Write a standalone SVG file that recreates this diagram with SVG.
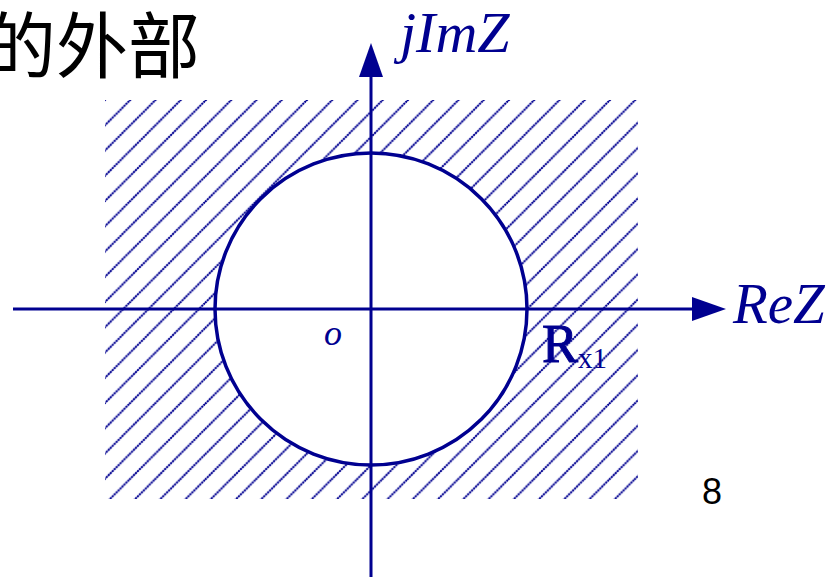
<svg xmlns="http://www.w3.org/2000/svg" width="833" height="577" viewBox="0 0 833 577">
<style>
.ax{stroke:#000090;stroke-width:3;fill:none}
.head{fill:#000090;stroke:none}
.lbl{font-family:"Liberation Serif","Times New Roman",serif;fill:#000090}
.it{font-style:italic}
</style>
<defs>
<pattern id="hatch" patternUnits="userSpaceOnUse" x="3" y="0" width="25.25" height="25.25">
<path d="M-2,2 L2,-2 M-2,27.25 L27.25,-2 M23.25,27.25 L27.25,23.25" stroke="#000090" stroke-width="2" stroke-dasharray="2.2 0.6" fill="none"/>
</pattern>
</defs>
<rect width="833" height="577" fill="#ffffff"/>
<g id="title">
<text x="-16" y="72" font-family="'Noto Sans CJK SC',sans-serif" font-size="72" fill="#000000">的外部</text>
</g>
<g id="region">
<rect x="105" y="100" width="533" height="399" fill="url(#hatch)"/>
</g>
<g id="circle">
<circle cx="371" cy="309" r="156" fill="#ffffff" stroke="#000090" stroke-width="3.5"/>
</g>
<g id="connectors">
<line class="ax" x1="13" y1="309" x2="694" y2="309"/>
<polygon class="head" points="692,297 726,309 692,321"/>
<line class="ax" x1="371" y1="577" x2="371" y2="75"/>
<polygon class="head" points="359,77 371,43 383,77"/>
</g>
<g id="labels">
<text class="lbl it" x="400" y="52" font-size="58">jImZ</text>
<text class="lbl it" x="733" y="323" font-size="57">ReZ</text>
<text class="lbl it" x="324" y="345" font-size="36">o</text>
<text class="lbl" x="542" y="362" font-size="54" stroke="#000090" stroke-width="1">R<tspan font-size="29" stroke-width="0" dy="6">x1</tspan></text>
</g>
<g id="page">
<text x="702" y="504" font-family="'Liberation Sans',Arial,sans-serif" font-size="36" fill="#000000">8</text>
</g>
</svg>
